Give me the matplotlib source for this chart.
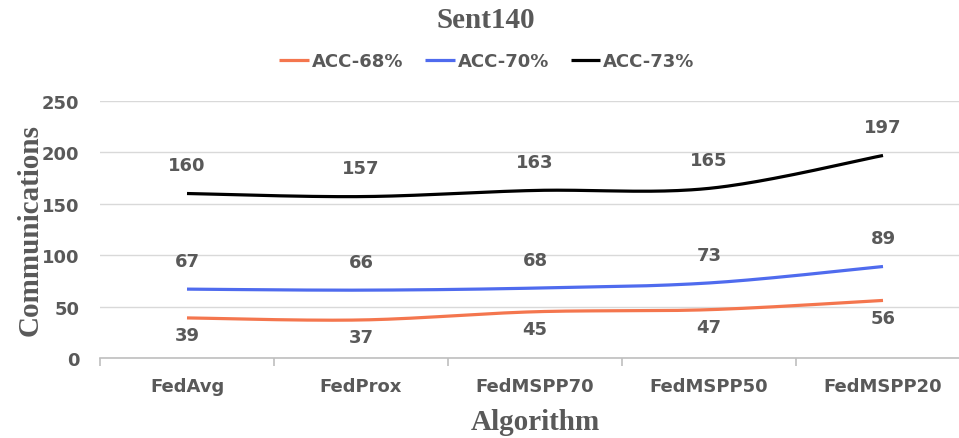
import numpy as np
import matplotlib
matplotlib.use("Agg")
from matplotlib import pyplot as plt

algorithms = ["FedAvg", "FedProx", "FedMSPP70", "FedMSPP50", "FedMSPP20"]
acc68 = [39, 37, 45, 47, 56]
acc70 = [67, 66, 68, 73, 89]
acc73 = [160, 157, 163, 165, 197]
series_names = ["ACC-68%", "ACC-70%", "ACC-73%"]

GRAY = "#595959"
SANS = ["DejaVu Sans"]
SERIF = ["Liberation Serif", "DejaVu Serif"]


def smooth(xs, ys, n=40):
    # excel-style smoothed line: cubic bezier between points
    xs = np.asarray(xs, float)
    ys = np.asarray(ys, float)
    px, py = [], []
    for i in range(len(xs) - 1):
        x0, y0 = xs[max(i - 1, 0)], ys[max(i - 1, 0)]
        x1, y1 = xs[i], ys[i]
        x2, y2 = xs[i + 1], ys[i + 1]
        x3, y3 = xs[min(i + 2, len(xs) - 1)], ys[min(i + 2, len(xs) - 1)]
        c1x, c1y = x1 + (x2 - x0) / 6, y1 + (y2 - y0) / 6
        c2x, c2y = x2 - (x3 - x1) / 6, y2 - (y3 - y1) / 6
        t = np.linspace(0, 1, n)
        bx = (1-t)**3*x1 + 3*(1-t)**2*t*c1x + 3*(1-t)*t**2*c2x + t**3*x2
        by = (1-t)**3*y1 + 3*(1-t)**2*t*c1y + 3*(1-t)*t**2*c2y + t**3*y2
        px += list(bx)
        py += list(by)
    return np.array(px), np.array(py)


fig = plt.figure(figsize=(9.59, 4.39), dpi=100)
ax = fig.add_axes([100/959, 1-359/439, 1-100/959, 257/439])

x = np.arange(len(algorithms))
colors = ["#F4764E", "#4F6BEE", "#000000"]
data = [acc68, acc70, acc73]
offsets = [-6, 14, 14]

for vals, c, name, off in zip(data, colors, series_names, offsets):
    sx, sy = smooth(x, vals)
    ax.plot(sx, sy, color=c, lw=2.3, label=name, solid_capstyle="butt")
    for xi, v in zip(x, vals):
        ax.annotate(str(v), (xi, v), xytext=(0, off), textcoords="offset points",
                    ha="center", va="bottom" if off > 0 else "top",
                    fontsize=13, fontweight="bold", color=GRAY, family=SANS)

ax.set_yticks(range(0, 251, 50))
ax.set_xticks(x)
ax.set_xticklabels(algorithms)
ax.set_xticks(np.arange(-0.5, 5, 1), minor=True)
ax.set_ylim(0, 250)
ax.set_xlim(-0.5, 4.5 - 11/174)
ax.grid(axis="y", color="#D9D9D9", lw=1)
ax.set_axisbelow(True)
for s in ["top", "right", "left"]:
    ax.spines[s].set_visible(False)
ax.spines["bottom"].set_color("#BFBFBF")
ax.spines["bottom"].set_linewidth(1.2)
ax.tick_params(axis="y", length=0, pad=15)
ax.tick_params(axis="x", length=0, pad=14)
ax.tick_params(axis="x", which="minor", length=6, color="#BFBFBF", width=1.2)
for lbl in ax.get_xticklabels() + ax.get_yticklabels():
    lbl.set_fontsize(13)
    lbl.set_fontweight("bold")
    lbl.set_color(GRAY)
    lbl.set_family(SANS)

fig.text(535/959, 1-423/439, "Algorithm", ha="center", va="center",
         fontsize=21, fontweight="bold", color=GRAY, family=SERIF)
fig.text(30/959, 1-230/439, "Communications", ha="center", va="center",
         rotation=90, fontsize=21, fontweight="bold", color=GRAY, family=SERIF)
fig.text(486/959, 1-20/439, "Sent140", ha="center", va="center",
         fontsize=21, fontweight="bold", color=GRAY, family=SERIF)

leg = fig.legend(loc="center", bbox_to_anchor=(487/959, 1-62/439), ncol=3,
                 frameon=False, handlelength=1.65, handletextpad=0.15,
                 columnspacing=1.2,
                 prop={"family": SANS, "weight": "bold", "size": 13})
for t in leg.get_texts():
    t.set_color(GRAY)

fig.savefig("out.png", dpi=100)
